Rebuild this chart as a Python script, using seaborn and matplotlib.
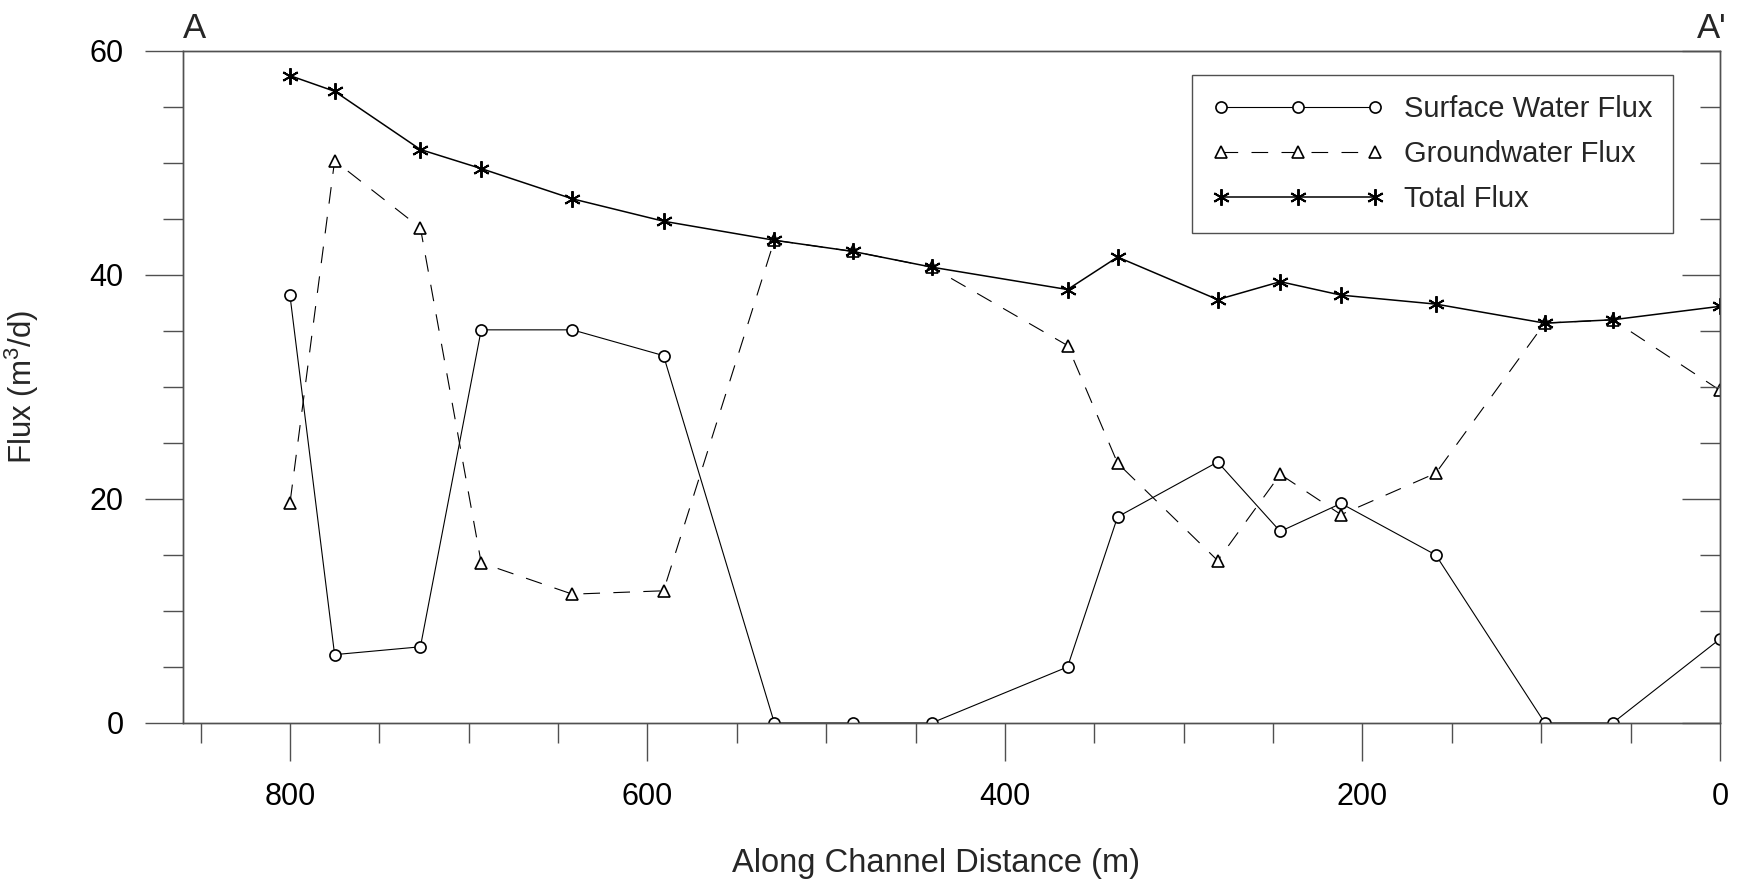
import numpy as np
import pandas as pd
import matplotlib
matplotlib.use("Agg")
import matplotlib.pyplot as plt
from matplotlib.ticker import MultipleLocator
import seaborn as sns

# Along-channel stations (m) and fluxes (m3/d)
distance = [800, 775, 727, 693, 642, 591, 529, 485, 441, 365, 337, 281, 246, 212, 159, 98, 60, 0]
surface_flux = [38.2, 6.1, 6.8, 35.1, 35.1, 32.8, 0.0, 0.0, 0.0, 5.0, 18.4, 23.3, 17.1, 19.6, 15.0, 0.0, 0.0, 7.5]
ground_flux = [19.6, 50.2, 44.2, 14.3, 11.5, 11.8, 43.1, 42.1, 40.7, 33.7, 23.2, 14.5, 22.2, 18.6, 22.3, 35.7, 36.0, 29.7]
total_flux = [57.8, 56.4, 51.2, 49.5, 46.8, 44.8, 43.1, 42.1, 40.7, 38.7, 41.6, 37.8, 39.4, 38.2, 37.4, 35.7, 36.0, 37.2]

x_major_ticks = [800, 600, 400, 200, 0]
y_major_ticks = [0, 20, 40, 60]

df = pd.DataFrame({
    "distance": distance,
    "surface": surface_flux,
    "ground": ground_flux,
    "total": total_flux,
})

sns.set_style("ticks")
plt.rcParams["font.family"] = ["Liberation Sans", "DejaVu Sans"]
plt.rcParams["mathtext.default"] = "regular"

fig = plt.figure(figsize=(17.43, 8.85), dpi=100)
ax = fig.add_axes([0.1048, 0.1831, 0.882, 0.7593])

axis_grey = "#505050"

sns.lineplot(data=df, x="distance", y="surface", ax=ax, color="black",
             lw=0.8, marker="o", ms=8, mfc="white", mec="black", mew=1.2,
             label="Surface Water Flux")
sns.lineplot(data=df, x="distance", y="ground", ax=ax, color="black",
             lw=0.8, linestyle=(0, (15, 12)), marker="^", ms=9, mfc="white",
             mec="black", mew=1.2, label="Groundwater Flux")
sns.lineplot(data=df, x="distance", y="total", ax=ax, color="black",
             lw=1.1, marker=(6, 2, 0), ms=12, mec="black", mew=1.4,
             label="Total Flux")

ax.set_xlim(860, 0)
ax.set_ylim(0, 60)

ax.xaxis.set_major_locator(plt.FixedLocator(x_major_ticks))
ax.xaxis.set_minor_locator(MultipleLocator(50))
ax.yaxis.set_major_locator(plt.FixedLocator(y_major_ticks))
ax.yaxis.set_minor_locator(MultipleLocator(5))

ax.tick_params(axis="both", which="major", direction="out", length=27.4,
               width=1.0, color=axis_grey, labelsize=22, labelcolor="black",
               pad=15)
ax.tick_params(axis="both", which="minor", direction="out", length=14.4,
               width=1.0, color=axis_grey)
ax.tick_params(top=False, right=False, which="both")

for side in ["left", "bottom", "top", "right"]:
    ax.spines[side].set_visible(True)
    ax.spines[side].set_color(axis_grey)
    ax.spines[side].set_linewidth(1.0)

# Inward ticks along the right-hand frame
ax_r = ax.twinx()
ax_r.set_ylim(ax.get_ylim())
ax_r.yaxis.set_major_locator(plt.FixedLocator(y_major_ticks))
ax_r.yaxis.set_minor_locator(MultipleLocator(5))
ax_r.tick_params(axis="y", which="major", direction="in", length=27.4,
                 width=1.0, color=axis_grey, labelright=False)
ax_r.tick_params(axis="y", which="minor", direction="in", length=14.4,
                 width=1.0, color=axis_grey)
for side in ["left", "bottom", "top", "right"]:
    ax_r.spines[side].set_color(axis_grey)
    ax_r.spines[side].set_linewidth(1.0)

ax.set_xlabel("Along Channel Distance (m)", fontsize=23.5)
ax.set_ylabel("Flux (m$^3$/d)", fontsize=22.5)
ax.xaxis.set_label_coords(0.49, -0.186)
ax.yaxis.set_label_coords(-0.092, 0.5)

ax.text(0.008, 1.019, "A", transform=ax.transAxes, ha="center",
        va="baseline", fontsize=25)
ax.text(0.9948, 1.019, "A'", transform=ax.transAxes, ha="center",
        va="baseline", fontsize=25)

leg = ax.legend(loc="upper left", bbox_to_anchor=(0.6565, 0.964),
                borderaxespad=0, numpoints=3, handlelength=5.9,
                handletextpad=0.7, labelspacing=0.58, borderpad=0.68,
                fontsize=21, frameon=True, fancybox=False, framealpha=1)
leg.get_frame().set_edgecolor(axis_grey)
leg.get_frame().set_linewidth(1.0)

fig.savefig("out.png", dpi=100)
